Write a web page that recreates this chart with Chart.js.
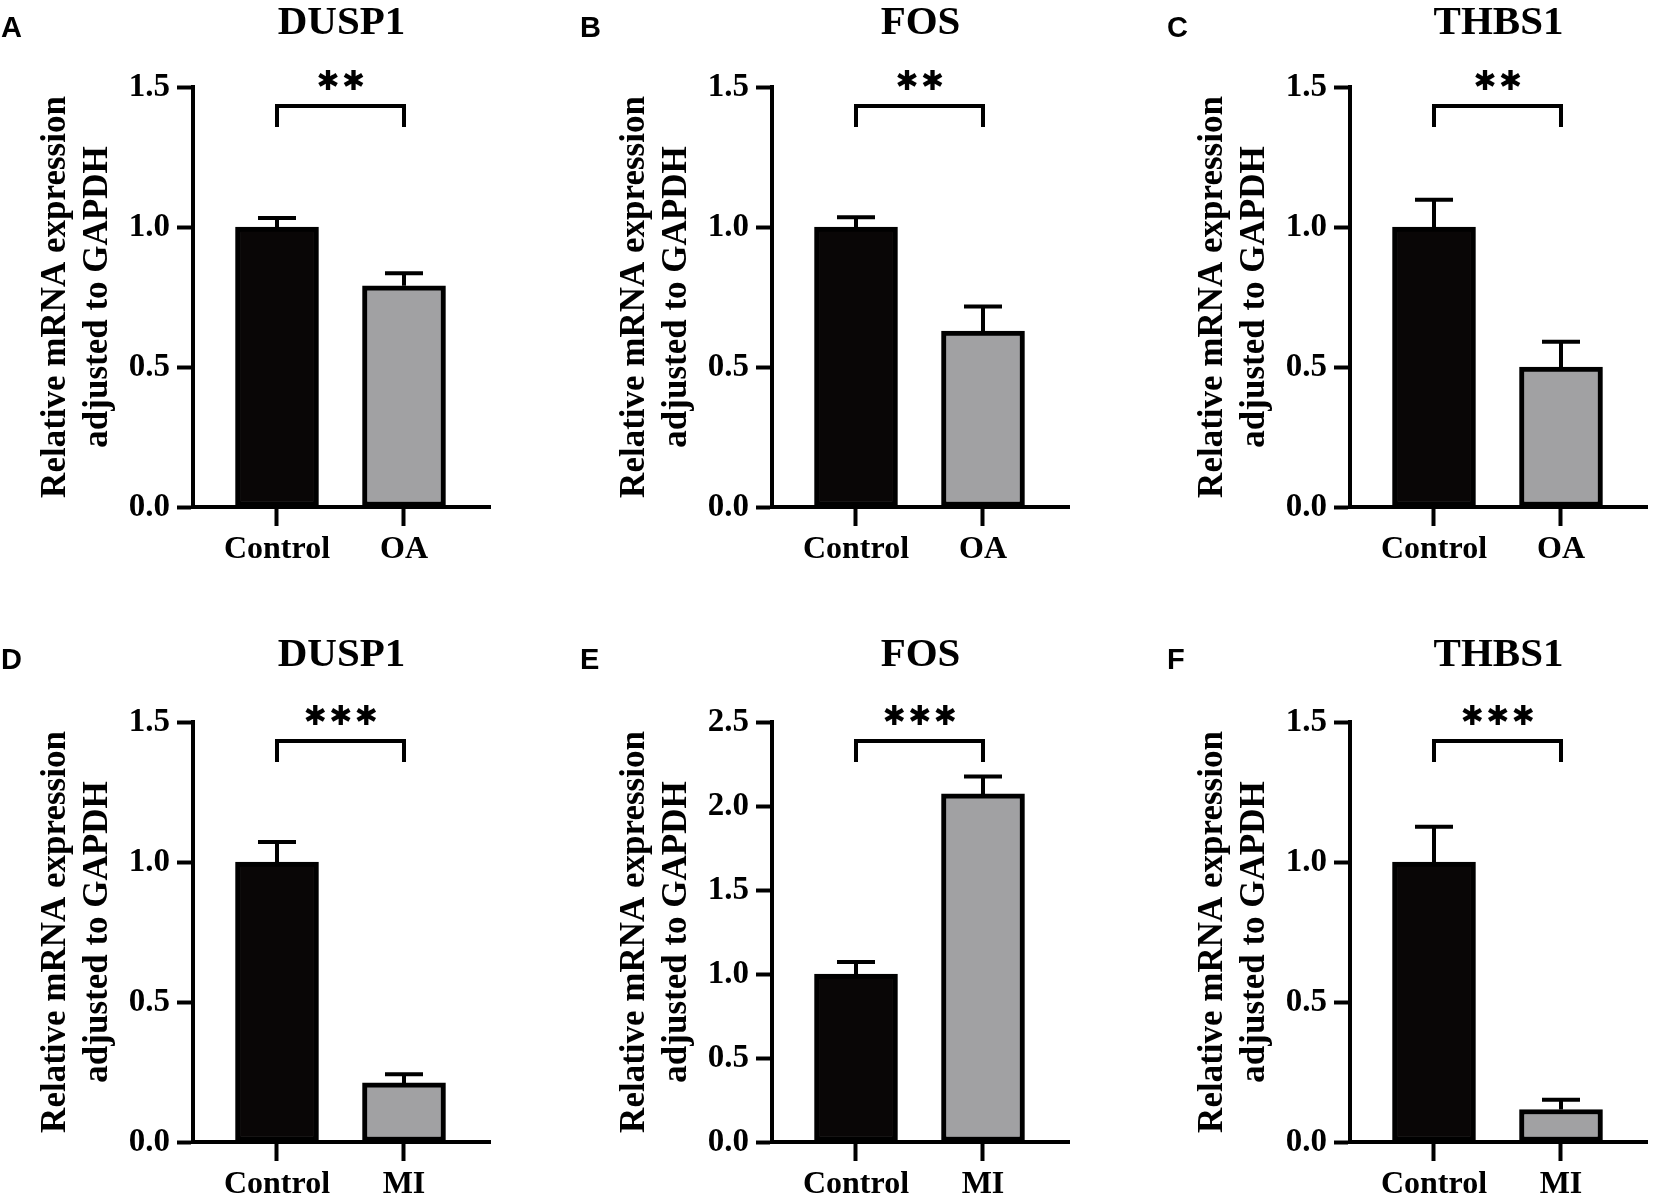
<!DOCTYPE html>
<html>
<head>
<meta charset="utf-8">
<script src="https://cdn.jsdelivr.net/npm/chart.js@4/dist/chart.umd.min.js"></script>
<style>
  html, body { margin: 0; padding: 0; background: #fff; }
  body { width: 1654px; height: 1200px; position: relative; overflow: hidden; }
  canvas { position: absolute; }
</style>
</head>
<body>
<canvas id="pA" width="497" height="565" style="left:0px;top:0px"></canvas>
<canvas id="pB" width="497" height="565" style="left:579px;top:0px"></canvas>
<canvas id="pC" width="497" height="565" style="left:1157px;top:0px"></canvas>
<canvas id="pD" width="497" height="565" style="left:0px;top:635px"></canvas>
<canvas id="pE" width="497" height="565" style="left:579px;top:635px"></canvas>
<canvas id="pF" width="497" height="565" style="left:1157px;top:635px"></canvas>
<script>
// ---- data ----
const panelLetters = ['A', 'B', 'C', 'D', 'E', 'F'];
const geneNames = ['DUSP1', 'FOS', 'THBS1', 'DUSP1', 'FOS', 'THBS1'];
const groupsOA = ['Control', 'OA'];
const groupsMI = ['Control', 'MI'];
const yTicksLow = [0, 0.5, 1.0, 1.5];
const yTicksHigh = [0, 0.5, 1.0, 1.5, 2.0, 2.5];
const yTitle = ['Relative mRNA expression', 'adjusted to GAPDH'];

// mean and upper error (SEM) per group
const meanA = [1.0, 0.79];   const errA = [0.032, 0.045];
const meanB = [1.0, 0.628];  const errB = [0.035, 0.088];
const meanC = [1.0, 0.50];   const errC = [0.097, 0.090];
const meanD = [1.0, 0.211];  const errD = [0.071, 0.031];
const meanE = [1.0, 2.072];  const errE = [0.071, 0.104];
const meanF = [1.0, 0.116];  const errF = [0.126, 0.035];
const sigStars = ['**', '**', '**', '***', '***', '***'];

const SERIF = '"Liberation Serif", "Times New Roman", serif';
const BAR_COLORS = ['#090606', '#a1a1a3'];
const STAR = '\u2731';

const panels = [
  { id: 'pA', groups: groupsOA, mean: meanA, err: errA, ticks: yTicksLow, row: 0, lx: 1 },
  { id: 'pB', groups: groupsOA, mean: meanB, err: errB, ticks: yTicksLow, row: 0, lx: 1 },
  { id: 'pC', groups: groupsOA, mean: meanC, err: errC, ticks: yTicksLow, row: 0, lx: 10 },
  { id: 'pD', groups: groupsMI, mean: meanD, err: errD, ticks: yTicksLow, row: 1, lx: 1 },
  { id: 'pE', groups: groupsMI, mean: meanE, err: errE, ticks: yTicksHigh, row: 1, lx: 1 },
  { id: 'pF', groups: groupsMI, mean: meanF, err: errF, ticks: yTicksLow, row: 1, lx: 10 }
];

// error bars, significance bracket, stars and panel letter
const extras = {
  id: 'extras',
  afterDatasetsDraw(chart, args, opts) {
    const { ctx, chartArea, scales: { x, y } } = chart;
    ctx.save();
    ctx.strokeStyle = '#000';
    ctx.fillStyle = '#000';
    ctx.lineWidth = 4;
    ctx.lineCap = 'butt';
    ctx.lineJoin = 'miter';

    opts.mean.forEach((m, i) => {
      const px = x.getPixelForValue(i + 1);
      const yb = y.getPixelForValue(m);
      const yt = y.getPixelForValue(m + opts.err[i]);
      ctx.beginPath();
      ctx.moveTo(px, yb);
      ctx.lineTo(px, yt);
      ctx.moveTo(px - 19, yt);
      ctx.lineTo(px + 19, yt);
      ctx.stroke();
    });

    const x1 = x.getPixelForValue(1);
    const x2 = x.getPixelForValue(2);
    const top = chartArea.top;
    ctx.beginPath();
    ctx.moveTo(x1, top + 40);
    ctx.lineTo(x1, top + 19);
    ctx.lineTo(x2, top + 19);
    ctx.lineTo(x2, top + 40);
    ctx.stroke();

    // scale the star glyph so it is about 20px wide
    ctx.font = 'bold 40px "DejaVu Sans"';
    let mt = ctx.measureText(STAR);
    const w = mt.actualBoundingBoxLeft + mt.actualBoundingBoxRight;
    const size = w > 0 ? 40 * 20 / w : 40;
    ctx.font = 'bold ' + size.toFixed(1) + 'px "DejaVu Sans"';
    mt = ctx.measureText(STAR);
    ctx.textAlign = 'center';
    ctx.textBaseline = 'alphabetic';
    const base = top - 8 + (mt.actualBoundingBoxAscent - mt.actualBoundingBoxDescent) / 2;
    const n = opts.stars.length;
    const mid = (x1 + x2) / 2;
    for (let k = 0; k < n; k++) {
      ctx.fillText(STAR, mid + (k - (n - 1) / 2) * 25.5, base);
    }

    ctx.font = 'bold 29px "Liberation Sans", Arial, sans-serif';
    ctx.textAlign = 'left';
    ctx.textBaseline = 'middle';
    ctx.fillText(opts.letter, opts.lx, opts.ly);
    ctx.restore();
  }
};

Chart.defaults.color = '#000';
Chart.defaults.font.family = SERIF;

panels.forEach((p, idx) => {
  const titleTop = p.row === 0 ? 3 : 0;
  new Chart(document.getElementById(p.id), {
    type: 'bar',
    data: {
      datasets: [{
        data: p.mean.map((v, i) => ({ x: i + 1, y: v })),
        backgroundColor: BAR_COLORS,
        borderColor: '#000',
        borderWidth: 5,
        borderSkipped: false,
        barThickness: 83
      }]
    },
    options: {
      responsive: false,
      animation: false,
      devicePixelRatio: 1,
      layout: { padding: { left: 0, right: 7, top: 0, bottom: 0 } },
      plugins: {
        legend: { display: false },
        tooltip: { enabled: false },
        title: {
          display: true,
          text: geneNames[idx],
          fullSize: false,
          color: '#000',
          font: { family: SERIF, size: 41, weight: 'bold', lineHeight: 1.0 },
          padding: { top: titleTop, bottom: 87 - 41 - titleTop }
        },
        extras: {
          mean: p.mean,
          err: p.err,
          stars: sigStars[idx],
          letter: panelLetters[idx],
          lx: p.lx,
          ly: p.row === 0 ? 29 : 26
        }
      },
      scales: {
        x: {
          type: 'linear',
          bounds: 'data',
          offset: false,
          min: 0.3386,
          max: 2.6772,
          afterBuildTicks: s => { s.ticks = p.groups.map((g, i) => ({ value: i + 1 })); },
          afterFit: s => { s.height = 58; },
          ticks: {
            autoSkip: false,
            padding: 5,
            callback: v => p.groups[v - 1],
            font: { family: SERIF, size: 32, weight: 'bold', lineHeight: 1.2 },
            color: '#000'
          },
          grid: {
            display: true,
            offset: false,
            drawOnChartArea: false,
            drawTicks: true,
            tickLength: 19,
            tickWidth: 4,
            tickColor: '#000'
          },
          border: { display: true, color: '#000', width: 4 }
        },
        y: {
          min: 0,
          max: p.ticks[p.ticks.length - 1],
          afterBuildTicks: s => { s.ticks = p.ticks.map(v => ({ value: v })); },
          afterFit: s => { s.width = 193; },
          ticks: {
            padding: 7,
            callback: v => Number(v).toFixed(1),
            font: { family: SERIF, size: 33, weight: 'bold' },
            color: '#000'
          },
          grid: {
            display: true,
            drawOnChartArea: false,
            drawTicks: true,
            tickLength: 16,
            tickWidth: 4,
            tickColor: '#000'
          },
          border: { display: true, color: '#000', width: 4 },
          title: {
            display: true,
            text: yTitle,
            color: '#000',
            font: { family: SERIF, size: 35, weight: 'bold', lineHeight: 1.19 },
            padding: { top: 35, bottom: 0 }
          }
        }
      }
    },
    plugins: [extras]
  });
});
</script>
</body>
</html>
